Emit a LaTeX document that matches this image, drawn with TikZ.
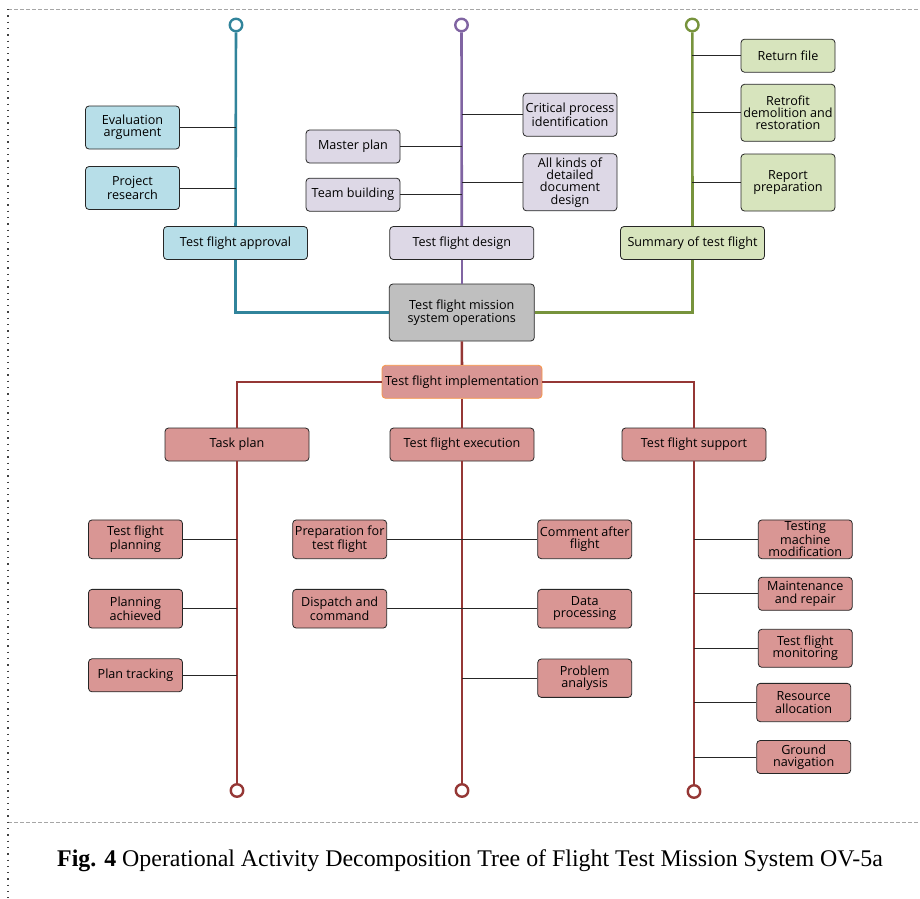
\documentclass[tikz,border=0pt]{standalone}
\usepackage{fontspec}
\newfontfamily\boxfont{Open Sans}
\newfontfamily\capfont{Liberation Serif}
\definecolor{lteal}{HTML}{31849B}
\definecolor{lpurple}{HTML}{8064A2}
\definecolor{lgreen}{HTML}{77933C}
\definecolor{lred}{HTML}{953735}
\definecolor{fteal}{HTML}{B7DEE8}
\definecolor{fpurple}{HTML}{DDD8E6}
\definecolor{fgreen}{HTML}{D7E4BD}
\definecolor{fred}{HTML}{D99694}
\definecolor{fgray}{HTML}{BFBFBF}
\definecolor{orangeedge}{HTML}{F79646}
\begin{document}
\begin{tikzpicture}[x=1pt,y=-1pt,
  bx/.style={draw=black!85, line width=0.8pt, rounded corners=3.5pt, align=center,
    inner sep=0.5pt, text=black, font=\boxfont\fontsize{12.6}{12.4}\selectfont},
  wide/.style={bx, minimum width=144pt, minimum height=33pt},
  small/.style={bx, minimum width=94pt, minimum height=#1},
  small/.default=33pt,
  blue/.style={fill=fteal}, lav/.style={fill=fpurple}, grn/.style={fill=fgreen}, rd/.style={fill=fred},
  trunk/.style={line width=2.6pt},
  endcap/.style={circle, draw, line width=2.4pt, fill=white, minimum size=12.5pt, inner sep=0pt},
  conn/.style={draw=black!85, line width=0.8pt}]
\useasboundingbox (0,0) rectangle (920,898);

% frame
\draw[black!35, line width=1pt, dash pattern=on 4pt off 2pt] (8,9) -- (920,9);
\draw[black!35, line width=1pt, dash pattern=on 4pt off 2pt] (8,822) -- (920,822);
\draw[black!75, line width=1.3pt, dash pattern=on 1.3pt off 5pt] (8,9) -- (8,898);

% root
\node[bx, fill=fgray, minimum width=145pt, minimum height=57pt] (ops) at (461.8,312.5) {Test flight mission\\system operations};

% ---- test flight approval branch
\node[endcap, draw=lteal] (ta) at (236,25) {};
\node[wide, blue] (app) at (235.5,243) {Test flight approval};
\node[small=43pt, blue] (eva) at (132.5,127.5) {Evaluation\\argument};
\node[small=43pt, blue] (prj) at (132.5,188) {Project\\research};
\draw[trunk, lteal] (ta) -- (app);
\draw[trunk, lteal] (app.south) |- (ops.west);
\draw[conn] (eva.east) -- (eva.east -| ta);
\draw[conn] (prj.east) -- (prj.east -| ta);

% ---- test flight design branch
\node[endcap, draw=lpurple] (pa) at (461.5,25) {};
\node[wide, lav] (des) at (461.8,243) {Test flight design};
\node[small, lav] (mst) at (353,146.5) {Master plan};
\node[small, lav] (team) at (353,194.7) {Team building};
\node[small=43pt, lav] (crit) at (570,114.7) {Critical process\\identification};
\node[small=57pt, lav] (doc) at (570,182.3) {All kinds of\\detailed\\document\\design};
\draw[trunk, lpurple] (pa) -- (des);
\draw[trunk, lpurple] (des) -- (ops);
\draw[conn] (mst.east) -- (mst.east -| pa);
\draw[conn] (team.east) -- (team.east -| pa);
\draw[conn] (crit.west) -- (crit.west -| pa);
\draw[conn] (doc.west) -- (doc.west -| pa);

% ---- summary branch
\node[endcap, draw=lgreen] (ga) at (692.3,25) {};
\node[wide, grn] (sum) at (692.5,243) {Summary of test flight};
\node[small, grn] (ret) at (788,55.7) {Return file};
\node[small=57pt, grn] (rfit) at (788,112.8) {Retrofit\\demolition and\\restoration};
\node[small=57pt, grn] (rep) at (788,182.5) {Report\\preparation};
\draw[trunk, lgreen] (ga) -- (sum);
\draw[trunk, lgreen] (sum.south) |- (ops.east);
\draw[conn] (ret.west) -- (ret.west -| ga);
\draw[conn] (rfit.west) -- (rfit.west -| ga);
\draw[conn] (rep.west) -- (rep.west -| ga);

% ---- implementation branch
\node[bx, rd, draw=orangeedge, minimum width=160pt, minimum height=33pt] (impl) at (462,381.8) {Test flight implementation};
\node[wide, rd] (task) at (237,444.5) {Task plan};
\node[wide, rd] (exe) at (462,444.5) {Test flight execution};
\node[wide, rd] (sup) at (694,444.5) {Test flight support};
\draw[trunk, lred] (ops) -- (impl);
\draw[trunk, lred] (impl.west) -| (task.north);
\draw[trunk, lred] (impl.east) -| (sup.north);
\draw[trunk, lred] (impl) -- (exe);

\node[endcap, draw=lred] (tb) at (237,790.5) {};
\node[endcap, draw=lred] (eb) at (462,790.5) {};
\node[endcap, draw=lred] (sb) at (694,791.5) {};
\draw[trunk, lred] (task) -- (tb);
\draw[trunk, lred] (exe) -- (eb);
\draw[trunk, lred] (sup) -- (sb);

% task plan leaves
\node[small=38.7pt, rd] (tfp) at (135.5,539.3) {Test flight\\planning};
\node[small=38.7pt, rd] (pach) at (135.5,608.7) {Planning\\achieved};
\node[small, rd] (ptr) at (135.5,675.3) {Plan tracking};
\draw[conn] (tfp.east) -- (tfp.east -| tb);
\draw[conn] (pach.east) -- (pach.east -| tb);
\draw[conn] (ptr.east) -- (ptr.east -| tb);

% execution leaves
\node[small=38.7pt, rd] (prep) at (339.7,539.3) {Preparation for\\test flight};
\node[small=38.7pt, rd] (disp) at (339.7,608.7) {Dispatch and\\command};
\node[small=38.7pt, rd] (cmt) at (584.7,539.3) {Comment after\\flight};
\node[small=38.7pt, rd] (data) at (584.7,608.7) {Data\\processing};
\node[small=38.3pt, rd] (prob) at (584.7,678.2) {Problem\\analysis};
\draw[conn] (prep.east) -- (cmt.west);
\draw[conn] (disp.east) -- (data.west);
\draw[conn] (prob.west) -- (prob.west -| eb);

% support leaves
\node[small=38.7pt, rd] (tmm) at (805.3,539.3) {Testing\\machine\\modification};
\node[small, rd] (mnt) at (805.3,593.8) {Maintenance\\and repair};
\node[small=38pt, rd] (mon) at (805.3,648.3) {Test flight\\monitoring};
\node[small=38.3pt, rd] (res) at (803.7,702.5) {Resource\\allocation};
\node[small, rd] (gnd) at (803.7,757) {Ground\\navigation};
\foreach \n in {tmm,mnt,mon,res,gnd}
  \draw[conn] (\n.west) -- (\n.west -| sb);

% caption
\node[anchor=base, inner sep=0pt, font=\capfont\fontsize{23.9}{28}\selectfont] (cap) at (470,866)
  {\textbf{Fig. 4} Operational Activity Decomposition Tree of Flight Test Mission System OV-5a};
\end{tikzpicture}
\end{document}
